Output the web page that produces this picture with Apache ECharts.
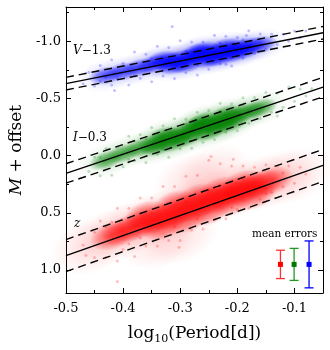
<!DOCTYPE html>
<html>
<head>
<meta charset="utf-8">
<script src="https://cdn.jsdelivr.net/npm/echarts@6/dist/echarts.min.js"></script>
<style>
  html, body { margin: 0; padding: 0; background: #fff; }
  #chart { width: 330px; height: 350px; }
</style>
</head>
<body>
<div id="chart"></div>
<script>
// axis ticks
const xMajor = [-0.5, -0.4, -0.3, -0.2, -0.1]
const xMinor = [-0.45, -0.35, -0.25, -0.15]
const yMajor = [-1.0, -0.5, 0.0, 0.5, 1.0]
const yMinor = [-1.25, -0.75, -0.25, 0.25, 0.75]

// V - 1.3 : dense core and scattered stars
const vCore = [[-0.43, -0.70], [-0.40, -0.735], [-0.37, -0.77], [-0.345, -0.80], [-0.32, -0.82], [-0.30, -0.845],
  [-0.28, -0.86], [-0.26, -0.88], [-0.24, -0.90], [-0.22, -0.915], [-0.20, -0.935], [-0.18, -0.955], [-0.16, -0.97],
  [-0.33, -0.84], [-0.31, -0.79], [-0.27, -0.90], [-0.25, -0.845], [-0.22, -0.95], [-0.21, -0.89],
  [-0.29, -0.80], [-0.26, -0.92], [-0.235, -0.86], [-0.19, -0.92]]
const vDots = [[-0.47, -0.629], [-0.46, -0.729], [-0.45, -0.609], [-0.44, -0.789], [-0.43, -0.688], [-0.42, -0.618],
  [-0.42, -0.838], [-0.41, -0.678], [-0.40, -0.808], [-0.39, -0.618], [-0.38, -0.907], [-0.37, -0.677], [-0.36, -0.887],
  [-0.35, -0.647], [-0.34, -0.956], [-0.33, -0.696], [-0.32, -0.946], [-0.31, -0.676], [-0.30, -1.006], [-0.29, -0.725],
  [-0.28, -0.995], [-0.27, -0.705], [-0.26, -0.995], [-0.25, -0.755], [-0.24, -1.054], [-0.23, -0.804], [-0.22, -1.044],
  [-0.21, -0.784], [-0.20, -1.033], [-0.19, -0.853], [-0.18, -1.093], [-0.17, -0.893], [-0.16, -1.063], [-0.15, -0.932],
  [-0.14, -1.062], [-0.13, -0.972], [-0.12, -1.062], [-0.11, -1.001], [-0.10, -1.091], [-0.09, -1.031], [-0.08, -1.091],
  [-0.35, -0.847], [-0.33, -0.746], [-0.29, -0.915], [-0.27, -0.795], [-0.23, -0.984], [-0.21, -0.854], [-0.19, -1.013],
  [-0.38, -0.697], [-0.44, -0.649], [-0.314, -1.13], [-0.184, -1.05], [-0.415, -0.57], [-0.22, -0.80]]

// I - 0.3
const iCore = [[-0.43, 0.04], [-0.40, -0.02], [-0.37, -0.07], [-0.345, -0.11], [-0.32, -0.155], [-0.30, -0.19],
  [-0.28, -0.225], [-0.26, -0.255], [-0.24, -0.29], [-0.22, -0.32], [-0.20, -0.355], [-0.18, -0.385], [-0.16, -0.415],
  [-0.33, -0.17], [-0.31, -0.12], [-0.27, -0.27], [-0.25, -0.21], [-0.22, -0.36], [-0.21, -0.29],
  [-0.29, -0.16], [-0.26, -0.30], [-0.34, -0.08], [-0.23, -0.26]]
const iDots = [[-0.46, 0.138], [-0.45, 0.011], [-0.44, 0.174], [-0.43, -0.063], [-0.42, 0.171], [-0.41, -0.076],
  [-0.40, 0.097], [-0.39, -0.170], [-0.38, 0.043], [-0.37, -0.183], [-0.36, 0.060], [-0.35, -0.247], [-0.34, -0.014],
  [-0.33, -0.261], [-0.32, 0.013], [-0.31, -0.324], [-0.30, -0.061], [-0.29, -0.318], [-0.28, -0.065], [-0.27, -0.381],
  [-0.26, -0.118], [-0.25, -0.395], [-0.24, -0.142], [-0.23, -0.459], [-0.22, -0.205], [-0.21, -0.452], [-0.20, -0.219],
  [-0.19, -0.506], [-0.18, -0.283], [-0.17, -0.509], [-0.16, -0.326], [-0.15, -0.553], [-0.14, -0.380], [-0.13, -0.547],
  [-0.12, -0.423], [-0.11, -0.600], [-0.10, -0.477], [-0.09, -0.584], [-0.08, -0.521], [-0.07, -0.587],
  [-0.36, -0.150], [-0.33, -0.061], [-0.29, -0.278], [-0.27, -0.151], [-0.23, -0.389], [-0.21, -0.252], [-0.19, -0.446],
  [-0.39, 0.030], [-0.44, 0.014], [-0.13, -0.347]]

// z
const zCore = [[-0.42, 0.70], [-0.40, 0.66], [-0.38, 0.62], [-0.36, 0.59], [-0.34, 0.55], [-0.32, 0.52],
  [-0.30, 0.48], [-0.28, 0.45], [-0.26, 0.41], [-0.24, 0.38], [-0.22, 0.345], [-0.20, 0.31], [-0.18, 0.28], [-0.16, 0.25],
  [-0.14, 0.22], [-0.36, 0.52], [-0.33, 0.61], [-0.31, 0.43], [-0.29, 0.55], [-0.27, 0.37], [-0.25, 0.48],
  [-0.23, 0.31], [-0.21, 0.40], [-0.19, 0.25], [-0.17, 0.34]]
const zHalo = [[-0.46, 0.80], [-0.43, 0.72], [-0.40, 0.66], [-0.37, 0.60], [-0.34, 0.55], [-0.31, 0.50], [-0.28, 0.44],
  [-0.25, 0.38], [-0.22, 0.33], [-0.19, 0.28], [-0.16, 0.24], [-0.13, 0.20], [-0.10, 0.17], [-0.28, 0.22], [-0.24, 0.15],
  [-0.34, 0.75], [-0.30, 0.70]]
const zDots = [[-0.47, 0.78], [-0.465, 0.87], [-0.45, 0.67], [-0.45, 0.89], [-0.44, 0.57], [-0.43, 0.89], [-0.42, 0.58],
  [-0.41, 0.92], [-0.41, 0.46], [-0.40, 0.82], [-0.39, 0.46], [-0.38, 0.88], [-0.37, 0.37], [-0.36, 0.79], [-0.35, 0.37],
  [-0.34, 0.79], [-0.33, 0.27], [-0.32, 0.74], [-0.31, 0.27], [-0.30, 0.74], [-0.29, 0.18], [-0.28, 0.65], [-0.27, 0.17],
  [-0.26, 0.64], [-0.25, 0.04], [-0.24, 0.56], [-0.23, 0.07], [-0.22, 0.55], [-0.21, 0.09], [-0.20, 0.47], [-0.19, 0.09],
  [-0.18, 0.46], [-0.17, 0.10], [-0.16, 0.38], [-0.15, 0.08], [-0.14, 0.32], [-0.13, 0.09], [-0.12, 0.27], [-0.11, 0.09],
  [-0.10, 0.24], [-0.09, 0.10], [-0.08, 0.16], [-0.41, 1.10], [-0.302, 0.80], [-0.246, 0.006], [-0.207, 0.03],
  [-0.37, 0.72], [-0.35, 0.50], [-0.31, 0.62], [-0.29, 0.40], [-0.27, 0.55], [-0.23, 0.26], [-0.21, 0.45], [-0.19, 0.20],
  [-0.43, 0.62], [-0.15, 0.33], [-0.12, 0.15], [-0.33, 0.44], [-0.25, 0.30], [-0.39, 0.77]]

// fitted relations and their scatter (dashed)
const vFit = [[-0.5, -0.63], [-0.05, -1.075]]
const vUp = [[-0.5, -0.685], [-0.05, -1.13]]
const vLo = [[-0.5, -0.575], [-0.05, -1.02]]
const iFit = [[-0.5, 0.155], [-0.05, -0.60]]
const iUp = [[-0.5, 0.07], [-0.05, -0.685]]
const iLo = [[-0.5, 0.24], [-0.05, -0.515]]
const zFit = [[-0.5, 0.873], [-0.05, 0.085]]
const zUp = [[-0.5, 0.733], [-0.05, -0.055]]
const zLo = [[-0.5, 1.013], [-0.05, 0.225]]

// mean errors (z, I, V)
const errX = [-0.1245, -0.1006, -0.0744]
const errY = [0.95, 0.95, 0.95]
const errHalf = [0.124, 0.14, 0.205]

const serif = 'DejaVu Serif'
const fmt = v => v.toFixed(1)

const chart = echarts.init(document.getElementById('chart'))

function frameAxis(dim, pos, ticks, len, major, showLabel, extra) {
  const ax = {
    type: 'value',
    position: pos,
    min: dim === 'x' ? -0.5 : -1.3,
    max: dim === 'x' ? -0.05 : 1.2,
    axisLine: { show: major, onZero: false, lineStyle: { color: '#000', width: 1 } },
    axisTick: { show: true, inside: true, length: len, customValues: ticks, lineStyle: { color: '#000', width: 1 } },
    axisLabel: showLabel
      ? { show: true, customValues: ticks, formatter: fmt, fontFamily: serif, fontSize: 13, color: '#000', margin: dim === 'x' ? 9 : 5 }
      : { show: false },
    splitLine: { show: false }
  }
  if (dim === 'y') ax.inverse = true
  return Object.assign(ax, extra || {})
}

// soft elliptical blob, fades out to the edge
function glow(rgb, a) {
  return {
    type: 'radial', x: 0.5, y: 0.5, r: 0.5,
    colorStops: [
      { offset: 0, color: 'rgba(' + rgb + ',' + a + ')' },
      { offset: 0.55, color: 'rgba(' + rgb + ',' + (a * 0.6) + ')' },
      { offset: 1, color: 'rgba(' + rgb + ',0)' }
    ]
  }
}

function blobs(data, rgb, a, size, rot) {
  return {
    type: 'scatter', data: data, symbol: 'circle', symbolSize: size, symbolRotate: rot,
    itemStyle: { color: glow(rgb, a) }, silent: true, z: 2
  }
}

function dots(data, rgb) {
  return {
    type: 'scatter', data: data, symbol: 'circle', symbolSize: 3,
    itemStyle: { color: 'rgba(' + rgb + ',0.3)' }, silent: true, z: 3
  }
}

function fitLine(data, dashed) {
  return {
    type: 'line', data: data, showSymbol: false, silent: true, z: 5,
    lineStyle: { color: '#000', width: 1.4, type: dashed ? [8, 5] : 'solid' }
  }
}

const barColors = ['#ff3030', '#229922', '#0000ff']
const boxColors = ['#ff0000', '#007700', '#0000ff']

chart.setOption({
  animation: false,
  grid: { left: 59, right: 7, top: 7, bottom: 53 },
  xAxis: [
    frameAxis('x', 'bottom', xMajor, 5, true, true, {
      name: '{a|log}{s|10}{a|(Period[d])}',
      nameLocation: 'middle',
      nameGap: 30,
      nameTextStyle: {
        rich: {
          a: { fontFamily: serif, fontSize: 17, color: '#000', lineHeight: 22 },
          s: { fontFamily: serif, fontSize: 11, color: '#000', lineHeight: 22, verticalAlign: 'bottom' }
        }
      }
    }),
    frameAxis('x', 'bottom', xMinor, 3, false, false),
    frameAxis('x', 'top', xMajor, 5, true, false),
    frameAxis('x', 'top', xMinor, 3, false, false)
  ],
  yAxis: [
    frameAxis('y', 'left', yMajor, 5, true, true, {
      name: '{i|M}{a| + offset}',
      nameLocation: 'middle',
      nameRotate: 90,
      nameGap: 40,
      nameTextStyle: {
        rich: {
          i: { fontFamily: serif, fontStyle: 'italic', fontSize: 17, color: '#000' },
          a: { fontFamily: serif, fontSize: 17, color: '#000' }
        }
      }
    }),
    frameAxis('y', 'left', yMinor, 3, false, false),
    frameAxis('y', 'right', yMajor, 5, true, false),
    frameAxis('y', 'right', yMinor, 3, false, false)
  ],
  series: [
    blobs(zHalo, '255,0,0', 0.12, [80, 54], 19),
    blobs(zCore, '255,0,0', 0.72, [46, 28], 19),
    dots(zDots, '255,0,0'),
    blobs(iCore, '0,128,0', 0.14, [60, 34], 18),
    blobs(iCore, '0,128,0', 0.85, [36, 18], 18),
    dots(iDots, '0,128,0'),
    blobs(vCore, '0,0,255', 0.14, [58, 32], 11),
    blobs(vCore, '0,0,255', 0.85, [36, 18], 11),
    dots(vDots, '0,0,255'),
    fitLine(vFit, false), fitLine(vUp, true), fitLine(vLo, true),
    fitLine(iFit, false), fitLine(iUp, true), fitLine(iLo, true),
    fitLine(zFit, false), fitLine(zUp, true), fitLine(zLo, true),
    {
      type: 'custom',
      silent: true,
      z: 6,
      data: errX.map((x, i) => [x, errY[i], errHalf[i]]),
      renderItem: function (params, api) {
        const x = api.value(0), y = api.value(1), e = api.value(2)
        const top = api.coord([x, y - e])
        const bot = api.coord([x, y + e])
        const mid = api.coord([x, y])
        const c = barColors[params.dataIndex]
        const st = { stroke: c, lineWidth: 1.3 }
        return {
          type: 'group',
          children: [
            { type: 'line', shape: { x1: top[0], y1: top[1], x2: bot[0], y2: bot[1] }, style: st },
            { type: 'line', shape: { x1: top[0] - 4.5, y1: top[1], x2: top[0] + 4.5, y2: top[1] }, style: st },
            { type: 'line', shape: { x1: bot[0] - 4.5, y1: bot[1], x2: bot[0] + 4.5, y2: bot[1] }, style: st },
            { type: 'rect', shape: { x: mid[0] - 2.5, y: mid[1] - 2.5, width: 5, height: 5 }, style: { fill: boxColors[params.dataIndex] } }
          ]
        }
      }
    }
  ],
  graphic: [
    {
      type: 'text', left: 73, top: 45,
      style: {
        text: '{i|V}{a|\u22121.3}',
        rich: {
          i: { fontFamily: serif, fontStyle: 'italic', fontSize: 12, fill: '#000' },
          a: { fontFamily: serif, fontSize: 12, fill: '#000' }
        }
      }
    },
    {
      type: 'text', left: 73, top: 132,
      style: {
        text: '{i|I}{a|\u22120.3}',
        rich: {
          i: { fontFamily: serif, fontStyle: 'italic', fontSize: 12, fill: '#000' },
          a: { fontFamily: serif, fontSize: 12, fill: '#000' }
        }
      }
    },
    {
      type: 'text', left: 74, top: 218,
      style: { text: 'z', fontFamily: serif, fontStyle: 'italic', fontSize: 12, fill: '#000' }
    },
    {
      type: 'text', left: 252, top: 229,
      style: { text: 'mean errors', fontFamily: serif, fontSize: 10.5, fill: '#000' }
    }
  ]
})
</script>
</body>
</html>
